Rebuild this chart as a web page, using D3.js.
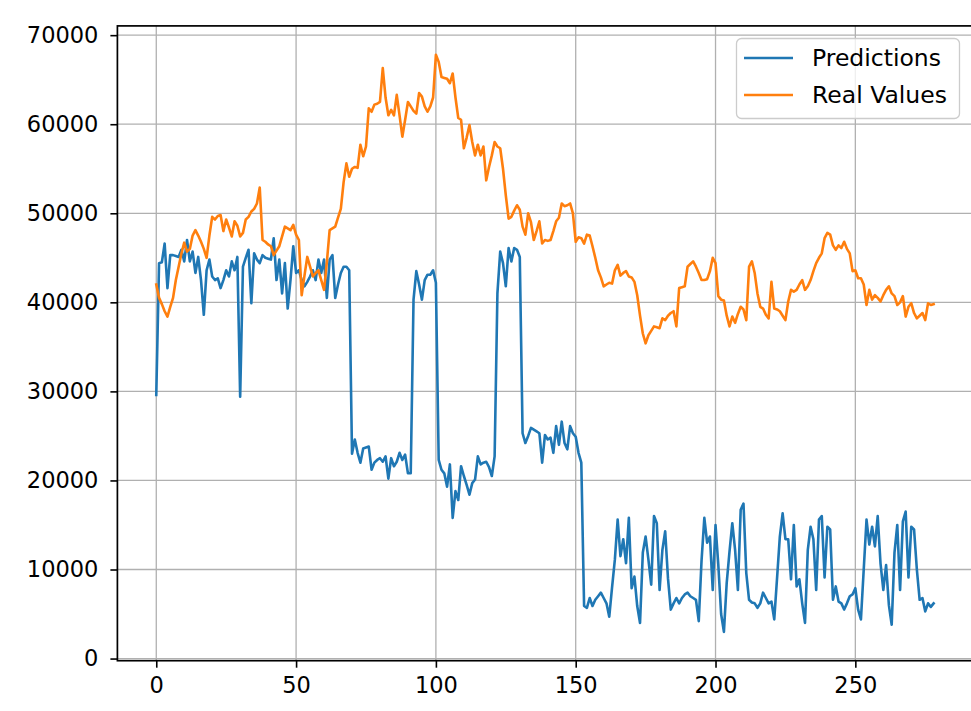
<!DOCTYPE html>
<html>
<head>
<meta charset="utf-8">
<script src="https://cdn.jsdelivr.net/npm/d3@7"></script>
<style>
  html, body { margin: 0; padding: 0; background: #ffffff; }
  svg { display: block; }
  text { font-family: "DejaVu Sans", sans-serif; fill: #000; }
</style>
</head>
<body>
<svg id="chart" width="971" height="711"></svg>
<script>
// ---- data ----
const seriesNames = ["Predictions", "Real Values"];
const xTicks = [0, 50, 100, 150, 200, 250];
const yTicks = [0, 10000, 20000, 30000, 40000, 50000, 60000, 70000];

const predictions = [
  29600, 44400, 44500, 46600, 41600, 45300, 45300, 45200, 45100, 45900,
  44600, 47000, 44600, 45700, 43300, 45100, 42500, 38600, 43600, 44800,
  42900, 42500, 42700, 41600, 42500, 43600, 42900, 44600, 43600, 45100,
  29400, 44000, 45000, 45900, 39900, 45500, 44800, 44400, 45300, 45000,
  44900, 44800, 47200, 42500, 44800, 41000, 44400, 39300, 42500, 46300,
  43300, 43600, 42500, 41800, 42300, 42900, 43600, 42500, 44800, 43300,
  44800, 40500, 44800, 45300, 40500, 42000, 43300, 44000, 44000, 43600,
  23000, 24600, 23100, 22000, 23600, 23700, 23800, 21200, 22000, 22300,
  22500, 22100, 22700, 20200, 22500, 21600, 22100, 23100, 22300, 22900,
  20800, 20800, 40300, 43500, 42000, 40300, 42500, 43100, 43100, 43600,
  42200, 22300, 21200, 20800, 19300, 21800, 15800, 18800, 17800, 21600,
  20500, 19500, 18400, 19700, 20100, 22700, 21800, 22000, 22100, 21500,
  20500, 22700, 41000, 45700, 44400, 41800, 46100, 44600, 46100, 45900,
  45100, 25300, 24200, 25000, 25900, 25700, 25500, 25300, 22000, 25100,
  24600, 24800, 23100, 26100, 24000, 26600, 24200, 23500, 26100, 25300,
  24900, 23100, 22000, 5900, 5700, 6800, 5900, 6600, 7000, 7400,
  6800, 6200, 4700, 8000, 11100, 15600, 11500, 13400, 10700, 15800,
  7900, 9200, 5900, 4000, 11900, 13700, 11100, 8300, 16000, 15200,
  7700, 12200, 14300, 9000, 5500, 6200, 6800, 6200, 6800, 7200,
  7400, 7000, 6800, 6600, 4200, 11000, 15800, 13000, 13700, 7700,
  15000, 10500, 5000, 3000, 8500, 12000, 15200, 12200, 7700, 16700,
  17400, 9600, 6600, 6300, 6200, 5700, 6200, 7400, 6800, 6200,
  6400, 4400, 9000, 13700, 16300, 13400, 13400, 8900, 15000, 8100,
  8900, 6200, 4000, 12200, 14800, 13400, 7700, 15600, 16000, 9100,
  14800, 14500, 6600, 8100, 6400, 6200, 5500, 6200, 7000, 7200,
  7900, 5500, 4400, 10000, 15600, 12800, 14800, 12600, 16000, 10700,
  7700, 10500, 6000, 3800, 11900, 15000, 7700, 15400, 16500, 9100,
  14800, 14500, 10000, 6600, 6800, 5300, 6200, 5800, 6200
];

const realValues = [
  42000, 40500, 39800, 39000, 38400, 39500, 40500, 42500, 44000, 45500,
  46700, 45700, 46000, 47500, 48100, 47500, 46800, 46000, 45000, 47500,
  49600, 49300, 49700, 49800, 48000, 49300, 48400, 47400, 49100, 48600,
  47400, 47800, 49300, 49600, 50200, 50500, 51100, 52900, 47000, 46800,
  46500, 46300, 45300, 45800, 46300, 47400, 48500, 48300, 48100, 48700,
  47600, 47000, 40800, 43000, 45100, 44000, 42900, 43300, 43600, 42500,
  41400, 44500, 48100, 48300, 48500, 49500, 50500, 53500, 55600, 54100,
  55000, 55200, 55100, 57700, 56400, 57500, 61800, 61400, 62200, 62300,
  62500, 66300, 63000, 61000, 61600, 61000, 63300, 61000, 58600, 60500,
  62500, 62000, 61500, 61200, 63500, 63100, 62000, 61400, 62000, 63000,
  67800, 67000, 65300, 65200, 65100, 64600, 65700, 63000, 60700, 60500,
  57300, 58500, 59900, 58000, 56500, 57700, 56500, 57500, 53700, 55200,
  56500, 58000, 57500, 57300, 55000, 52000, 49400, 49600, 50300, 50900,
  50400, 48500, 47600, 50000, 49000, 47000, 48000, 49100, 46600, 47000,
  46900, 47000, 48000, 49100, 49500, 51100, 50800, 50900, 51100, 50000,
  46800, 47300, 47200, 46600, 47600, 47500, 46300, 45000, 43600, 42800,
  41800, 42000, 42200, 42100, 43600, 44200, 43000, 43300, 43500, 42900,
  42800, 42300, 40800, 38500, 36500, 35400, 36300, 36800, 37300, 37200,
  37100, 38200, 38000, 38500, 38800, 39000, 37300, 41600, 41700, 41800,
  44000, 44300, 44600, 44000, 43300, 42500, 42500, 42600, 43500, 45000,
  44400, 40700, 40300, 40200, 38500, 37300, 38400, 37700, 38700, 39500,
  39200, 38000, 44000, 44600, 43300, 41000, 39500, 39300, 38600, 38200,
  42300, 39300, 39200, 39000, 38500, 38000, 40100, 41400, 41200, 41400,
  42000, 42500, 41400, 41800, 42500, 43500, 44400, 45000, 45500, 47200,
  47800, 47600, 46400, 45900, 46400, 46100, 46800, 46000, 45500, 43500,
  43600, 42700, 42700, 42000, 39700, 41400, 40300, 40800, 40500, 40100,
  40800, 41400, 41800, 41000, 40700, 39700, 40000, 40700, 38400, 39500,
  39900, 38800, 38200, 38500, 38800, 38000, 39900, 39700, 39800
];

const colors = ["#1f77b4", "#ff7f0e"];

// ---- layout ----
const svg = d3.select("#chart");
const plot = { left: 117.4, right: 972.5, top: 25.9, bottom: 660.7 };

const n = predictions.length;
const xPad = (n - 1) * 0.05;
const allVals = predictions.concat(realValues);
const yMin = d3.min(allVals), yMax = d3.max(allVals);
const yPad = (yMax - yMin) * 0.05;

const x = d3.scaleLinear().domain([-xPad, (n - 1) + xPad]).range([plot.left, plot.right]);
const y = d3.scaleLinear().domain([yMin - yPad, yMax + yPad]).range([plot.bottom, plot.top]);

const fontSize = 22.5;
const legendFontSize = 23.5;

// grid
const grid = svg.append("g");
grid.selectAll("line.gx").data(xTicks).join("line")
  .attr("x1", d => x(d)).attr("x2", d => x(d))
  .attr("y1", plot.top).attr("y2", plot.bottom)
  .attr("stroke", "#b0b0b0").attr("stroke-width", 1.3);
grid.selectAll("line.gy").data(yTicks).join("line")
  .attr("x1", plot.left).attr("x2", plot.right)
  .attr("y1", d => y(d)).attr("y2", d => y(d))
  .attr("stroke", "#b0b0b0").attr("stroke-width", 1.3);

// lines
const line = d3.line().x((d, i) => x(i)).y(d => y(d));
const series = [predictions, realValues];
svg.append("g").selectAll("path").data(series).join("path")
  .attr("d", d => line(d))
  .attr("fill", "none")
  .attr("stroke", (d, i) => colors[i])
  .attr("stroke-width", 2.6)
  .attr("stroke-linejoin", "round")
  .attr("stroke-linecap", "square");

// axes
const xAxis = d3.axisBottom(x).tickValues(xTicks).tickSize(7).tickPadding(9).tickFormat(d3.format("d"));
const yAxis = d3.axisLeft(y).tickValues(yTicks).tickSize(7).tickPadding(12).tickFormat(d3.format("d"));

const gx = svg.append("g").attr("transform", `translate(0,${plot.bottom})`).call(xAxis);
const gy = svg.append("g").attr("transform", `translate(${plot.left},0)`).call(yAxis);
[gx, gy].forEach(g => {
  g.select(".domain").remove();
  g.selectAll(".tick line").attr("stroke", "#000").attr("stroke-width", 1.6);
  g.selectAll(".tick text").attr("font-size", fontSize).attr("font-family", "DejaVu Sans").attr("fill", "#000");
});

// spines
svg.append("rect")
  .attr("x", plot.left).attr("y", plot.top)
  .attr("width", plot.right - plot.left).attr("height", plot.bottom - plot.top)
  .attr("fill", "none").attr("stroke", "#000").attr("stroke-width", 1.7);

// legend
const lg = svg.append("g");
lg.append("rect")
  .attr("x", 736.5).attr("y", 38.5).attr("width", 223).attr("height", 80)
  .attr("rx", 5).attr("ry", 5)
  .attr("fill", "#ffffff").attr("fill-opacity", 0.8)
  .attr("stroke", "#cccccc").attr("stroke-width", 1.3);
const items = lg.selectAll("g.item").data(seriesNames).join("g")
  .attr("transform", (d, i) => `translate(0,${58 + i * 37})`);
items.append("line")
  .attr("x1", 744).attr("x2", 793)
  .attr("y1", 0).attr("y2", 0)
  .attr("stroke", (d, i) => colors[i]).attr("stroke-width", 2.6);
items.append("text")
  .attr("x", 812).attr("y", 0).attr("dy", "0.35em")
  .attr("font-size", legendFontSize)
  .text(d => d);
</script>
</body>
</html>
